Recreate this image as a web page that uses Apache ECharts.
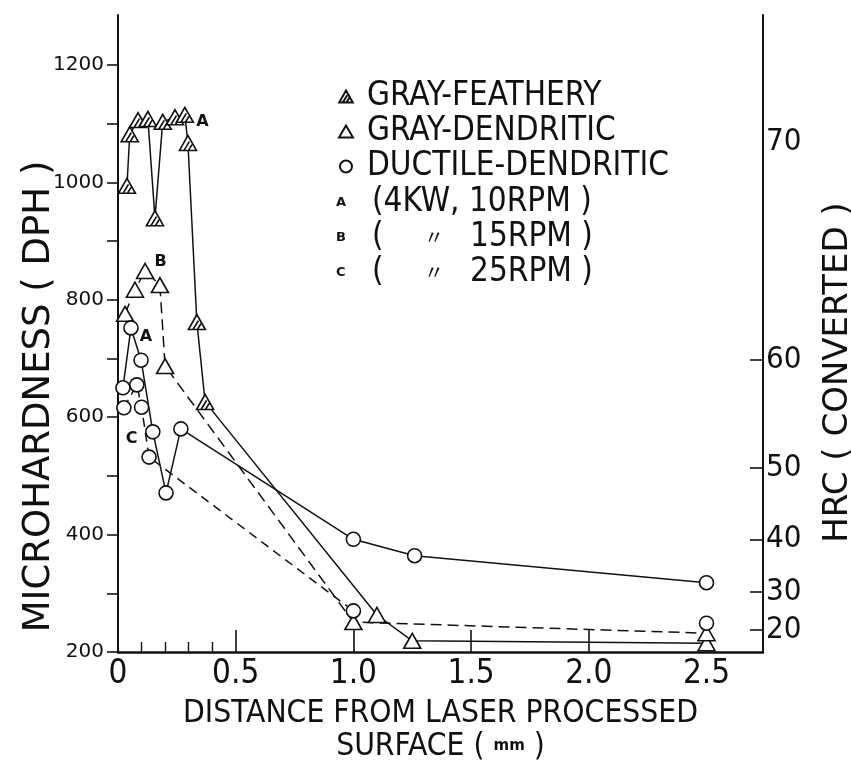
<!DOCTYPE html>
<html><head><meta charset="utf-8">
<script src="https://cdn.jsdelivr.net/npm/echarts@6/dist/echarts.min.js"></script>
<style>html,body{margin:0;padding:0;background:#fff}#c{width:851px;height:765px}</style>
</head><body><div id="c"></div><script>
// ---- data ----
// A: 4KW, 10RPM, triangles (solid line)
const aTriX = [0.038, 0.05, 0.085, 0.127, 0.157, 0.19, 0.242, 0.284, 0.297, 0.335, 0.37, 1.1, 1.25, 2.5];
const aTriY = [994, 1082, 1106, 1108, 939, 1103, 1111, 1115, 1067, 762, 626, 263, 219, 215];
const aTriKind = ['F','F','F','F','F','F','F','F','F','F','F','D','D','D'];
// A: 4KW, 10RPM, circles (solid line)
const aCircX = [0.021, 0.055, 0.098, 0.148, 0.204, 0.267, 1.0, 1.26, 2.5];
const aCircY = [650, 752, 697, 575, 471, 580, 392, 364, 318];
// B: 15RPM, triangles (dashed line)
const bTriX = [0.03, 0.072, 0.115, 0.178, 0.2, 1.0, 2.5];
const bTriY = [776, 817, 849, 825, 687, 251, 232];
// C: 25RPM, circles (dashed line); null = break in the line
const cCircX = [0.025, 0.08, 0.1, 0.132, 1.0, null, 2.5];
const cCircY = [616, 655, 617, 532, 270, null, 249];
// point annotations
const annotText = ['A', 'B', 'A', 'C'];
const annotSeries = ['aTri', 'bTri', 'aCirc', 'cCirc'];
const annotIndex = [7, 2, 1, 2];
// axes
const xLabels = [0, 0.5, 1.0, 1.5, 2.0, 2.5];
const xMajorTicks = [0.5, 1.0, 1.5, 2.0, 2.5];
const xMinorTicks = [0.1, 0.2, 0.3, 0.4];
const dphTicks = [200, 300, 400, 500, 600, 700, 800, 900, 1000, 1100, 1200];
const dphLabels = [200, 400, 600, 800, 1000, 1200];
const hrcTicks = [20, 30, 40, 50, 60, 70];
const hrcDph = [238, 302, 392, 513, 697, 1068];
const hrcTickDph = [238, 302, 392, 513, 697];
const legendNames = ['GRAY-FEATHERY', 'GRAY-DENDRITIC', 'DUCTILE-DENDRITIC'];
const rpmNames = ['A', 'B', 'C'];
const rpmText = ['(4KW, 10RPM )', '15RPM )', '25RPM )'];

// ---- styles ----
const FC = '"DejaVu Sans Condensed", "Liberation Sans Narrow", "DejaVu Sans", sans-serif';
const FR = '"DejaVu Sans", sans-serif';
const INK = '#111';
const featherSym = 'path://M0,15L8.5,0L17,15Z M4.5,15L10,6 M9,15L12.6,9';
const annotStyle = {
  aTri: {position: 'right', offset: [-3, 7]},
  bTri: {position: 'right', offset: [-5, -9]},
  aCirc: {position: 'right', offset: [-4, 9]},
  cCirc: {position: 'bottom', offset: [-10, 11]}
};
const sets = {
  aTri: {x: aTriX, y: aTriY},
  aCirc: {x: aCircX, y: aCircY},
  bTri: {x: bTriX, y: bTriY},
  cCirc: {x: cCircX, y: cCircY}
};
function pairs(xs, ys) { return xs.map((x, i) => (x == null ? ['-', '-'] : [x, ys[i]])); }
function pt(key, i) {
  const item = {value: [sets[key].x[i], sets[key].y[i]]};
  annotSeries.forEach((s, k) => {
    if (s === key && annotIndex[k] === i) {
      item.label = Object.assign({show: true, formatter: annotText[k],
        fontFamily: FR, fontWeight: 'bold', fontSize: 16, color: INK}, annotStyle[key]);
    }
  });
  return item;
}
const featherPts = [], dendPts = [], ductPts = [];
aTriX.forEach((x, i) => (aTriKind[i] === 'F' ? featherPts : dendPts).push(pt('aTri', i)));
bTriX.forEach((x, i) => dendPts.push(pt('bTri', i)));
aCircX.forEach((x, i) => ductPts.push(pt('aCirc', i)));
cCircX.forEach((x, i) => { if (x != null) ductPts.push(pt('cCirc', i)); });

const lineBase = {type: 'line', symbol: 'none', z: 2, animation: false, silent: true};
const markBase = {type: 'scatter', z: 5, animation: false,
  itemStyle: {color: '#fff', borderColor: INK, borderWidth: 1.6, opacity: 1}};

const chart = echarts.init(document.getElementById('c'), null, {renderer: 'canvas'});
chart.setOption({
  backgroundColor: '#fff',
  animation: false,
  grid: {left: 118, right: 88, top: 15, bottom: 113, outerBoundsMode: 'none', containLabel: false},
  legend: [{
    orient: 'vertical', left: 333, top: 75, itemGap: 2, itemWidth: 14, itemHeight: 12,
    data: legendNames, selectedMode: false,
    textStyle: {fontFamily: FC, fontSize: 33, lineHeight: 30, color: INK, padding: [0, 0, 0, 9]}
  }, {
    orient: 'vertical', left: 325, top: 181, itemGap: 2, itemWidth: 1, itemHeight: 1,
    data: rpmNames.map(n => ({name: n, icon: 'none'})), selectedMode: false,
    formatter: function (name) {
      const i = rpmNames.indexOf(name);
      if (i === 0) return '{l|' + name + '}{t|' + rpmText[i] + '}';
      return '{l|' + name + '}{p|(}{d|〃}{t|' + rpmText[i] + '}';
    },
    textStyle: {
      fontFamily: FC, fontSize: 33, lineHeight: 30, color: INK,
      rich: {
        l: {fontFamily: FR, fontWeight: 'bold', fontSize: 13, width: 36, color: INK},
        p: {fontFamily: FC, fontSize: 33, width: 52, color: INK},
        d: {fontFamily: '"Noto Sans CJK JP", sans-serif', fontSize: 20, width: 46, color: INK},
        t: {fontFamily: FC, fontSize: 33, color: INK}
      }
    }
  }],
  xAxis: [{
    type: 'value', min: 0, max: 2.74, position: 'bottom',
    axisLine: {show: true, onZero: false, lineStyle: {color: INK, width: 2.5}},
    axisTick: {show: true, inside: true, length: 22, customValues: xMajorTicks, lineStyle: {color: INK, width: 1.6}},
    axisLabel: {show: true, customValues: xLabels, margin: 6, fontFamily: FC, fontSize: 33, color: INK,
      formatter: v => (v === 0 ? '0' : v.toFixed(1))},
    splitLine: {show: false},
    name: 'DISTANCE FROM LASER PROCESSED\nSURFACE ( {m|mm} )',
    nameLocation: 'middle', nameGap: 45, nameMoveOverlap: false,
    nameTextStyle: {fontFamily: FC, fontSize: 31.5, lineHeight: 33, color: INK,
      rich: {m: {fontFamily: FR, fontWeight: 'bold', fontSize: 15, color: INK}}}
  }, {
    type: 'value', min: 0, max: 2.74, position: 'bottom',
    axisLine: {show: false, onZero: false},
    axisTick: {show: true, inside: true, length: 10, customValues: xMinorTicks, lineStyle: {color: INK, width: 1.4}},
    axisLabel: {show: false},
    splitLine: {show: false}
  }],
  yAxis: [{
    type: 'value', min: 200, max: 1285, position: 'left',
    axisLine: {show: true, onZero: false, lineStyle: {color: INK, width: 2}},
    axisTick: {show: true, inside: false, length: 11, customValues: dphTicks, lineStyle: {color: INK, width: 1.6}},
    axisLabel: {show: true, customValues: dphLabels, margin: 14, fontFamily: FR, fontSize: 20, color: INK,
      formatter: v => String(v)},
    splitLine: {show: false},
    name: 'MICROHARDNESS ( DPH )', nameLocation: 'middle', nameRotate: 90, nameGap: 60, nameMoveOverlap: false,
    nameTextStyle: {fontFamily: FR, fontSize: 37, color: INK, padding: [0, 126, 0, 0]}
  }, {
    type: 'value', min: 200, max: 1285, position: 'right',
    axisLine: {show: true, onZero: false, lineStyle: {color: INK, width: 2}},
    axisTick: {show: true, inside: true, length: 13, customValues: hrcTickDph, lineStyle: {color: INK, width: 1.6}},
    axisLabel: {show: true, customValues: hrcDph, margin: 3, fontFamily: FC, fontSize: 31, color: INK,
      formatter: v => String(hrcTicks[hrcDph.indexOf(v)])},
    splitLine: {show: false},
    name: 'HRC ( CONVERTED )', nameLocation: 'middle', nameRotate: 90, nameGap: 58, nameMoveOverlap: false,
    nameTextStyle: {fontFamily: FR, fontSize: 34, color: INK, padding: [0, 78, 0, 0]}
  }],
  series: [
    Object.assign({}, lineBase, {name: 'A', data: pairs(aTriX, aTriY), lineStyle: {color: INK, width: 1.5}, itemStyle: {color: INK}}),
    Object.assign({}, lineBase, {name: 'A', data: pairs(aCircX, aCircY), lineStyle: {color: INK, width: 1.5}, itemStyle: {color: INK}}),
    Object.assign({}, lineBase, {name: 'B', data: pairs(bTriX, bTriY), lineStyle: {color: INK, width: 1.5, type: [11, 6]}, itemStyle: {color: INK}}),
    Object.assign({}, lineBase, {name: 'C', data: pairs(cCircX, cCircY), connectNulls: false, lineStyle: {color: INK, width: 1.5, type: [9, 6]}, itemStyle: {color: INK}}),
    Object.assign({}, markBase, {name: 'GRAY-FEATHERY', symbol: featherSym, symbolSize: [17, 15], data: featherPts}),
    Object.assign({}, markBase, {name: 'GRAY-DENDRITIC', symbol: 'triangle', symbolSize: [17, 15], data: dendPts}),
    Object.assign({}, markBase, {name: 'DUCTILE-DENDRITIC', symbol: 'circle', symbolSize: 14, data: ductPts})
  ]
});
</script></body></html>
